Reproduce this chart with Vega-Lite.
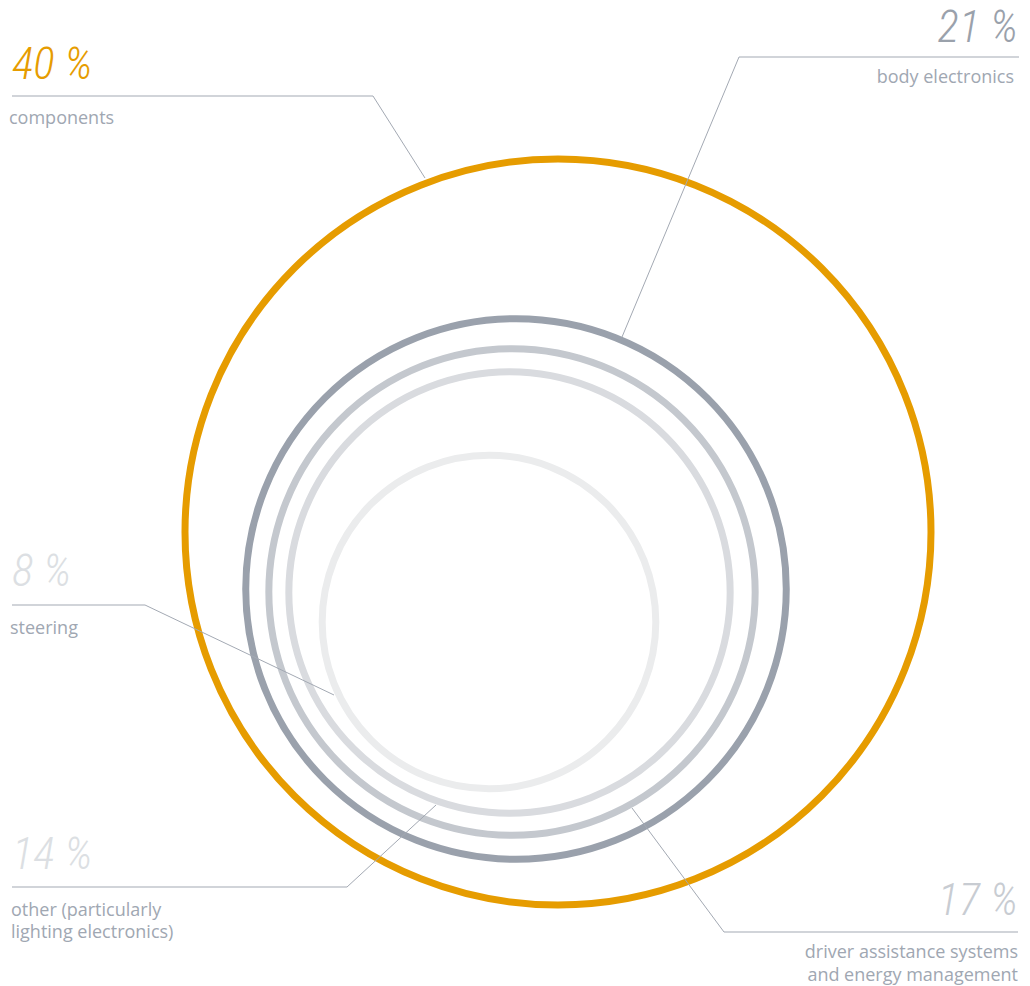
{
  "$schema": "https://vega.github.io/schema/vega-lite/v6.json",
  "width": 1030,
  "height": 986,
  "autosize": {"type": "fit", "contains": "padding"},
  "padding": 0,
  "background": "white",
  "config": {"view": {"stroke": null}},
  "datasets": {
    "shares": [
      {"category": "components", "value": 40, "cx": 558, "cy": 532},
      {"category": "body electronics", "value": 21, "cx": 516, "cy": 589},
      {"category": "driver assistance systems and energy management", "value": 17, "cx": 512, "cy": 592},
      {"category": "other (particularly lighting electronics)", "value": 14, "cx": 509.5, "cy": 592.5},
      {"category": "steering", "value": 8, "cx": 489, "cy": 622}
    ],
    "leaders": [
      {"category": "components", "k": 1, "x": 12, "y": 96},
      {"category": "components", "k": 2, "x": 373, "y": 96},
      {"category": "components", "k": 3, "x": 425, "y": 178},
      {"category": "body electronics", "k": 1, "x": 1019, "y": 57},
      {"category": "body electronics", "k": 2, "x": 739, "y": 57},
      {"category": "body electronics", "k": 3, "x": 622, "y": 337},
      {"category": "steering", "k": 1, "x": 12, "y": 605},
      {"category": "steering", "k": 2, "x": 145, "y": 605},
      {"category": "steering", "k": 3, "x": 334, "y": 695},
      {"category": "other (particularly lighting electronics)", "k": 1, "x": 12, "y": 887},
      {"category": "other (particularly lighting electronics)", "k": 2, "x": 347, "y": 887},
      {"category": "other (particularly lighting electronics)", "k": 3, "x": 436, "y": 805},
      {"category": "driver assistance systems and energy management", "k": 1, "x": 1018, "y": 932},
      {"category": "driver assistance systems and energy management", "k": 2, "x": 724, "y": 932},
      {"category": "driver assistance systems and energy management", "k": 3, "x": 632, "y": 808}
    ],
    "pct": [
      {"category": "components", "text": "40 %", "x": 12, "y": 79, "side": "left"},
      {"category": "body electronics", "text": "21 %", "x": 1018, "y": 42, "side": "right"},
      {"category": "steering", "text": "8 %", "x": 12, "y": 586, "side": "left"},
      {"category": "other (particularly lighting electronics)", "text": "14 %", "x": 12, "y": 869, "side": "left"},
      {"category": "driver assistance systems and energy management", "text": "17 %", "x": 1018, "y": 915, "side": "right"}
    ],
    "desc": [
      {"text": "components", "x": 9, "y": 124, "side": "left"},
      {"text": "body electronics", "x": 1014, "y": 83, "side": "right"},
      {"text": "steering", "x": 10, "y": 634, "side": "left"},
      {"text": "other (particularly\nlighting electronics)", "x": 11, "y": 916, "side": "left"},
      {"text": "driver assistance systems\nand energy management", "x": 1018, "y": 958, "side": "right"}
    ]
  },
  "layer": [
    {
      "data": {"name": "shares"},
      "mark": {"type": "point", "shape": "circle", "filled": false, "strokeWidth": 7, "opacity": 1},
      "encoding": {
        "x": {"field": "cx", "type": "quantitative", "axis": null, "scale": {"domain": [0, 1030], "nice": false, "zero": false}},
        "y": {"field": "cy", "type": "quantitative", "axis": null, "scale": {"domain": [0, 986], "reverse": true, "nice": false, "zero": false}},
        "size": {"field": "value", "type": "quantitative", "legend": null, "scale": {"domain": [0, 40], "range": [0, 556516], "zero": true}},
        "color": {"field": "category", "type": "nominal", "legend": null, "scale": {
          "domain": ["components", "body electronics", "driver assistance systems and energy management", "other (particularly lighting electronics)", "steering"],
          "range": ["#e69c00", "#9aa1ac", "#c4c8ce", "#d9dbdf", "#ebeced"]}},
        "order": {"field": "value", "type": "quantitative", "sort": "descending"}
      }
    },
    {
      "data": {"name": "leaders"},
      "mark": {"type": "line", "color": "#a3a9b3", "strokeWidth": 1},
      "encoding": {
        "x": {"field": "x", "type": "quantitative", "axis": null, "scale": {"domain": [0, 1030], "nice": false, "zero": false}},
        "y": {"field": "y", "type": "quantitative", "axis": null, "scale": {"domain": [0, 986], "reverse": true, "nice": false, "zero": false}},
        "detail": {"field": "category", "type": "nominal"},
        "order": {"field": "k", "type": "quantitative"}
      }
    },
    {
      "data": {"name": "pct"},
      "transform": [{"filter": "datum.side === 'left'"}],
      "mark": {"type": "text", "align": "left", "baseline": "alphabetic", "font": "Roboto Condensed", "fontStyle": "italic", "fontWeight": 300, "fontSize": 45},
      "encoding": {
        "x": {"field": "x", "type": "quantitative", "axis": null, "scale": {"domain": [0, 1030], "nice": false, "zero": false}},
        "y": {"field": "y", "type": "quantitative", "axis": null, "scale": {"domain": [0, 986], "reverse": true, "nice": false, "zero": false}},
        "text": {"field": "text"},
        "fill": {"field": "category", "type": "nominal", "legend": null, "scale": {
          "domain": ["components", "body electronics", "driver assistance systems and energy management", "other (particularly lighting electronics)", "steering"],
          "range": ["#e69c00", "#9aa1ab", "#c8ccd2", "#dcdfe3", "#dcdfe3"]}}
      }
    },
    {
      "data": {"name": "pct"},
      "transform": [{"filter": "datum.side === 'right'"}],
      "mark": {"type": "text", "align": "right", "baseline": "alphabetic", "font": "Roboto Condensed", "fontStyle": "italic", "fontWeight": 300, "fontSize": 45},
      "encoding": {
        "x": {"field": "x", "type": "quantitative", "axis": null, "scale": {"domain": [0, 1030], "nice": false, "zero": false}},
        "y": {"field": "y", "type": "quantitative", "axis": null, "scale": {"domain": [0, 986], "reverse": true, "nice": false, "zero": false}},
        "text": {"field": "text"},
        "fill": {"field": "category", "type": "nominal", "legend": null}
      }
    },
    {
      "data": {"name": "desc"},
      "transform": [{"filter": "datum.side === 'left'"}],
      "mark": {"type": "text", "align": "left", "baseline": "alphabetic", "font": "Open Sans", "fontSize": 18, "color": "#a0a7b2", "lineBreak": "\n", "lineHeight": 22},
      "encoding": {
        "x": {"field": "x", "type": "quantitative", "axis": null, "scale": {"domain": [0, 1030], "nice": false, "zero": false}},
        "y": {"field": "y", "type": "quantitative", "axis": null, "scale": {"domain": [0, 986], "reverse": true, "nice": false, "zero": false}},
        "text": {"field": "text"}
      }
    },
    {
      "data": {"name": "desc"},
      "transform": [{"filter": "datum.side === 'right'"}],
      "mark": {"type": "text", "align": "right", "baseline": "alphabetic", "font": "Open Sans", "fontSize": 18, "color": "#a0a7b2", "lineBreak": "\n", "lineHeight": 23},
      "encoding": {
        "x": {"field": "x", "type": "quantitative", "axis": null, "scale": {"domain": [0, 1030], "nice": false, "zero": false}},
        "y": {"field": "y", "type": "quantitative", "axis": null, "scale": {"domain": [0, 986], "reverse": true, "nice": false, "zero": false}},
        "text": {"field": "text"}
      }
    }
  ]
}
